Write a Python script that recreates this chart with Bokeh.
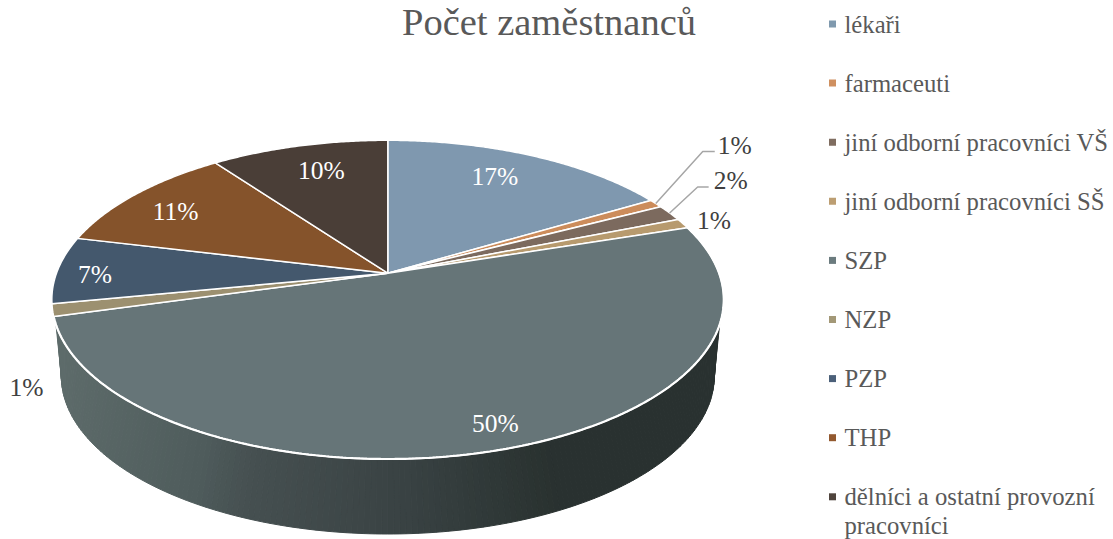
import numpy as np
from bokeh.plotting import figure
from bokeh.embed import file_html
from bokeh.resources import INLINE
from bokeh.core.properties import value
from bokeh.models import Range1d

# --- data ---
title = "Počet zaměstnanců"
categories = ["lékaři", "farmaceuti", "jiní odborní pracovníci VŠ", "jiní odborní pracovníci SŠ",
              "SZP", "NZP", "PZP", "THP", "dělníci a ostatní provozní\npracovníci"]
shares = [16.5, 0.85, 1.65, 1.0, 50.7, 1.25, 6.8, 11.2, 10.05]
share_labels = ["17%", "1%", "2%", "1%", "50%", "1%", "7%", "11%", "10%"]

# --- style ---
colors = ["#7F98AF", "#CC8C5B", "#7C6A5E", "#B79A6E", "#667578", "#9C9070", "#44586D", "#85532B", "#4A3E37"]
legend_colors = ["#7F99AE", "#CF9060", "#7F6D60", "#BC9E72", "#6B7B7E", "#A39877", "#4B6079", "#93592F", "#4F443D"]
label_colors = ["white", "#404040", "#404040", "#404040", "white", "#404040", "white", "white", "white"]
label_radius = [0.72, 1, 1, 1, 0.72, 1, 0.72, 0.72, 0.72]
label_nudge = [(0, -9), (79, -58), (61, -32), (31, -3), (30, 30), (-26, 77), (-55, 4), (-26, -4), (0, -7)]
leader_elbow = {1: ((47, -52), (12, 0)), 2: ((28, -26), (11, 0))}
SERIF = value("Liberation Serif")
TITLE_PX, LEG_PX, LAB_PX = "38.5px", "24.7px", "25.5px"

# --- perspective disc: circle -> ellipse ---
CX, HORIZON, D, K, R = 387.3, -660.8, 933.5, 0.166, 331.3
def project(theta_deg, r=1.0):
    t = np.radians(theta_deg)
    u, v = r * np.sin(t), r * np.cos(t)
    w = 1 + K * v
    return CX + R * u / w, HORIZON + D / w

p = figure(width=1113, height=539, output_backend="svg", toolbar_location=None,
           x_range=Range1d(0, 1113), y_range=Range1d(539, 0),
           min_border=0, outline_line_color=None, background_fill_color="white",
           border_fill_color="white", margin=(0, 0, 0, 0))
p.axis.visible = False
p.grid.visible = False
p.xaxis.visible = False
p.yaxis.visible = False

# side wall, drawn as thin quads with a shade that follows x
TOP_CY, TOP_RY, TOP_RX = 298.7, 159.5, 336.0
BOT_CY, BOT_RY, BOT_RX = 375.5, 158.0, 326.5
n = 170
t_top = np.radians(np.linspace(9, 171, n + 1))
t_bot = np.radians(np.linspace(0, 180, n + 1))
tx = CX + TOP_RX * np.cos(t_top); ty = TOP_CY + TOP_RY * np.sin(t_top)
bx = CX + BOT_RX * np.cos(t_bot); by = BOT_CY + BOT_RY * np.sin(t_bot)
shade_x = [55, 200, 250, 400, 500, 550, 723]
shade_rgb = np.array([(0x5E, 0x6C, 0x6B), (0x4F, 0x5C, 0x5C), (0x46, 0x50, 0x51), (0x3A, 0x43, 0x44),
                      (0x2F, 0x38, 0x37), (0x2A, 0x32, 0x30), (0x29, 0x31, 0x30)])
xs, ys, cols = [], [], []
for i in range(n):
    xs.append([tx[i], tx[i + 1], bx[i + 1], bx[i]])
    ys.append([ty[i], ty[i + 1], by[i + 1], by[i]])
    mid = (tx[i] + tx[i + 1] + bx[i] + bx[i + 1]) / 4
    c = [int(np.interp(mid, shade_x, shade_rgb[:, j])) for j in range(3)]
    cols.append("#%02x%02x%02x" % tuple(c))
p.patches(xs, ys, fill_color=cols, line_color=cols, line_width=1)

# slices
edges = np.concatenate([[0], np.cumsum(shares)]) / sum(shares) * 360
apex = project(0, 0)
for i, col in enumerate(colors):
    a = np.linspace(edges[i], edges[i + 1], max(3, int(edges[i + 1] - edges[i]) * 2 + 2))
    ax, ay = project(a)
    p.patch(np.r_[apex[0], ax], np.r_[apex[1], ay], fill_color=col, line_color="white", line_width=1.5)
    if i == 4:  # the front rim catches the light: a heavier white edge
        p.line(ax, ay, line_color="white", line_width=2.2)

# leader lines and slice labels
for i, txt in enumerate(share_labels):
    m = (edges[i] + edges[i + 1]) / 2
    x0, y0 = project(m, label_radius[i])
    if i in leader_elbow:
        (d1x, d1y), (d2x, d2y) = leader_elbow[i]
        p.line([x0, x0 + d1x, x0 + d1x + d2x], [y0, y0 + d1y, y0 + d1y + d2y], line_color="#A6A6A6", line_width=1.5)
    dx, dy = label_nudge[i]
    p.text([x0 + dx], [y0 + dy], text=[txt], text_color=label_colors[i], text_font=SERIF,
           text_font_size=LAB_PX, text_align="center", text_baseline="middle")

# title
p.text([548.5], [21], text=[title], text_color="#595959", text_font=SERIF, text_font_size=TITLE_PX,
       text_align="center", text_baseline="middle")

# legend
LEG_X, LEG_Y, LEG_STEP = 832, 23.5, 59.1
for i, cat in enumerate(categories):
    y = LEG_Y + i * LEG_STEP
    p.scatter([LEG_X], [y], marker="square", size=7, fill_color=legend_colors[i], line_color=None)
    for j, line in enumerate(cat.split("\n")):
        p.text([LEG_X + 12], [y + j * 29], text=[line], text_color="#595959", text_font=SERIF,
               text_font_size=LEG_PX, text_align="left", text_baseline="middle")

open("out.html", "w").write(file_html(p, INLINE))
